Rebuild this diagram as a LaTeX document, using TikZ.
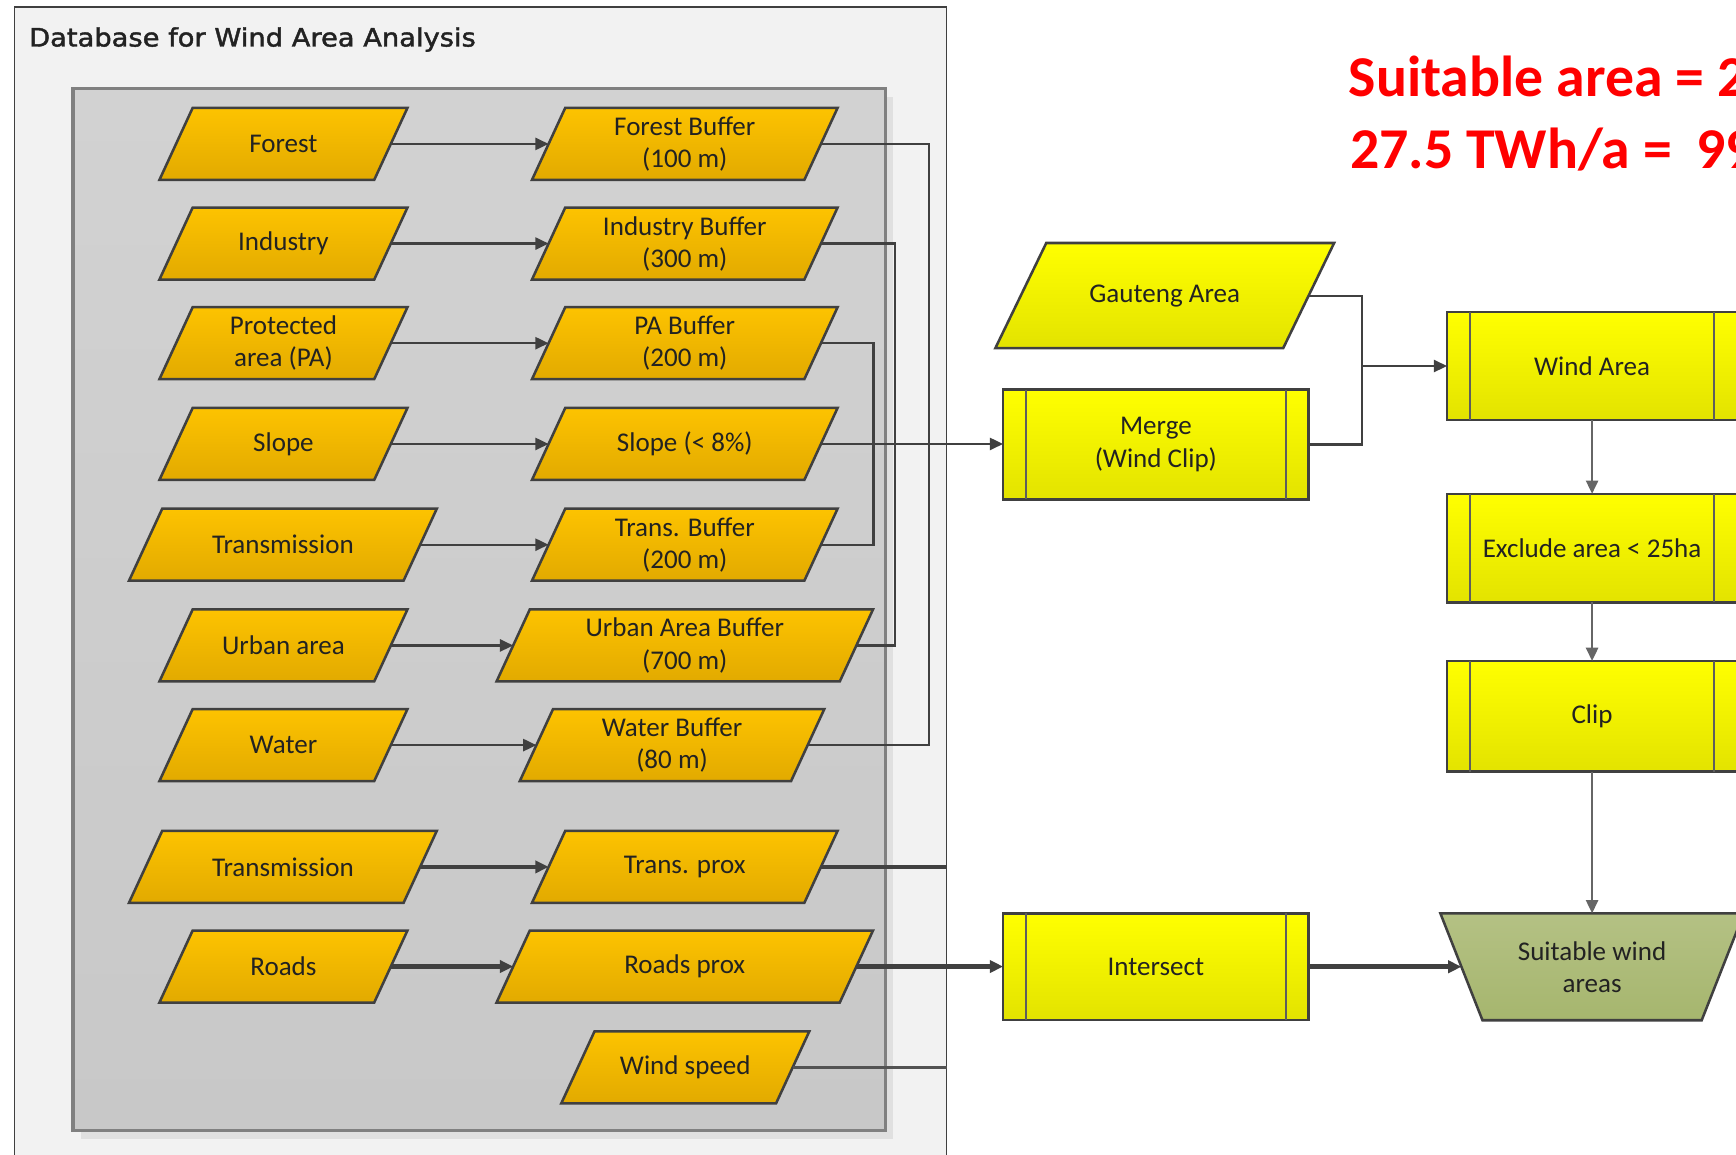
\documentclass[tikz,border=0pt]{standalone}
\usepackage{fontspec}
\setmainfont{Carlito}
\newfontfamily\titlefont[FakeBold=1.6]{DejaVu Sans}
\usetikzlibrary{arrows.meta,calc}

\definecolor{orT}{HTML}{FDC300}
\definecolor{orB}{HTML}{E2AA00}
\definecolor{yeT}{HTML}{FFFF00}
\definecolor{yeB}{HTML}{E3E300}
\definecolor{olT}{HTML}{B4C184}
\definecolor{olB}{HTML}{A6B66E}
\definecolor{edgec}{HTML}{404040}
\definecolor{panelc}{HTML}{F2F2F2}
\definecolor{innerT}{HTML}{D2D2D2}
\definecolor{innerB}{HTML}{C8C8C8}
\definecolor{innerE}{HTML}{808080}
\definecolor{redtxt}{HTML}{FF0000}
\definecolor{txtc}{HTML}{222222}

% parallelogram: name, cx, cy, w, h, slant, style, text
\newcommand\mypara[8]{%
  \path[#7] ({#2-#4/2+#6/2},{#3-#5/2}) -- ({#2+#4/2+#6/2},{#3-#5/2})
     -- ({#2+#4/2-#6/2},{#3+#5/2}) -- ({#2-#4/2-#6/2},{#3+#5/2}) -- cycle;
  \node[lbl, minimum width={#4*0.02cm}, minimum height={#5*0.02cm}] (#1) at (#2,#3) {#8};
}
% predefined process box: name, cx, cy, w, h, text
\newcommand\procbox[6]{%
  \node[procstyle, minimum width={#4*0.02cm}, minimum height={#5*0.02cm}] (#1) at (#2,#3) {#6};
  \draw[sideline] ([xshift=0.41cm]#1.north west) -- ([xshift=0.41cm]#1.south west);
  \draw[sideline] ([xshift=-0.41cm]#1.north east) -- ([xshift=-0.41cm]#1.south east);
}

\begin{document}
\begin{tikzpicture}[x=0.02cm,y=-0.02cm,
  orshape/.style={top color=orT,bottom color=orB,draw=edgec,line width=1.3pt},
  yeshape/.style={top color=yeT,bottom color=yeB,draw=edgec,line width=1.3pt},
  olshape/.style={top color=olT,bottom color=olB,draw=edgec,line width=1.3pt},
  lbl/.style={inner sep=0pt,outer sep=0pt,align=center,text=txtc,
    font=\fontsize{13.9pt}{16.5pt}\selectfont},
  procstyle/.style={lbl,yeshape},
  sideline/.style={draw=edgec!85,line width=1pt},
  conn/.style={draw=edgec,line width=1.1pt},
  bigconn/.style={draw=edgec,line width=2.4pt},
  vconn/.style={draw=edgec!80,line width=1.1pt},
  arr/.style={-{Triangle[length=0.24cm,width=0.22cm]}},
]
\useasboundingbox (0,0) rectangle (1568,1043);
\begin{scope}
\clip (0,0) rectangle (1568,1043);
\fill[white] (0,0) rectangle (1568,1043);

% outer database panel
\draw[fill=panelc, draw=edgec, line width=0.9pt] (13,6) rectangle (855,1070);
\node[anchor=base west, inner sep=0pt, text=txtc,
  font=\titlefont\fontsize{13pt}{15pt}\selectfont] (title) at (26,42)
  {\scalebox{1.08}[1]{Database for Wind Area Analysis}};

% inner panel
\fill[black!12] (73,88) rectangle (807,1029);
\draw[top color=innerT, bottom color=innerB, draw=innerE, line width=1.8pt]
  (66,80) rectangle (800,1021);

% left column
\mypara{forest}{256}{130}{194}{65}{30}{orshape}{Forest}
\mypara{industry}{256}{220}{194}{65}{30}{orshape}{Industry}
\mypara{protected}{256}{310}{194}{65}{30}{orshape}{Protected\\area (PA)}
\mypara{slope}{256}{401}{194}{65}{30}{orshape}{Slope}
\mypara{transA}{255.5}{492}{248}{65}{30}{orshape}{Transmission}
\mypara{urban}{256}{583}{194}{65}{30}{orshape}{Urban area}
\mypara{water}{256}{673}{194}{65}{30}{orshape}{Water}
\mypara{transB}{255.5}{783}{248}{65}{30}{orshape}{Transmission}
\mypara{roads}{256}{873}{194}{65}{30}{orshape}{Roads}

% right column
\mypara{forestb}{618.5}{130}{246}{65}{30}{orshape}{Forest Buffer\\(100 m)}
\mypara{industryb}{618.5}{220}{246}{65}{30}{orshape}{Industry Buffer\\(300 m)}
\mypara{pab}{618.5}{310}{246}{65}{30}{orshape}{PA Buffer\\(200 m)}
\mypara{slopeb}{618.5}{401}{246}{65}{30}{orshape}{Slope (< 8\%)}
\mypara{transb}{618.5}{492}{246}{65}{30}{orshape}{Trans. Buffer\\(200 m)}
\mypara{urbanb}{618.5}{583}{310}{65}{30}{orshape}{Urban Area Buffer\\(700 m)}
\mypara{waterb}{607}{673}{245}{65}{30}{orshape}{Water Buffer\\(80 m)}
\mypara{tprox}{618.5}{783}{246}{65}{30}{orshape}{Trans. prox}
\mypara{rprox}{618.5}{873}{310}{65}{30}{orshape}{Roads prox}
\mypara{wspeed}{619}{964}{194}{65}{30}{orshape}{Wind speed}

% right side process
\mypara{gauteng}{1052}{267}{260}{95}{46}{yeshape}{Gauteng Area}
\procbox{merge}{1044}{401.5}{276}{99}{Merge\\(Wind Clip)}
\procbox{intersect}{1044}{873.2}{276}{96.5}{Intersect}
\procbox{wind}{1438}{330.6}{262}{97.6}{Wind Area}
\procbox{excl}{1438}{495}{262}{98}{Exclude area < 25ha}
\procbox{clip}{1438}{647}{262}{100}{Clip}
\path[olshape] (1301,825) -- (1575,825) -- (1537,921.5) -- (1339,921.5) -- cycle;
\node[lbl, minimum width={236*0.02cm}, minimum height={96.5*0.02cm}] (suit) at (1438,873.2)
  {Suitable wind\\areas};

% red annotation
\node[anchor=base west, inner sep=0pt, text=redtxt,
  font=\bfseries\fontsize{29.7pt}{36pt}\selectfont] (note1) at (1218,87.5) {Suitable area = 2};
\node[anchor=base west, inner sep=0pt, text=redtxt,
  font=\bfseries\fontsize{29.7pt}{36pt}\selectfont] (note2) at (1219,152) {27.5 TWh/a = \hspace{0.2em}99};

% connectors: inputs to buffers
\draw[conn,arr] (forest.east) -- (forestb.west);
\draw[conn,arr] (industry.east) -- (industryb.west);
\draw[conn,arr] (protected.east) -- (pab.west);
\draw[conn,arr] (slope.east) -- (slopeb.west);
\draw[conn,arr] (transA.east) -- (transb.west);
\draw[conn,arr] (urban.east) -- (urbanb.west);
\draw[conn,arr] (water.east) -- (waterb.west);
\draw[bigconn,arr] (transB.east) -- (tprox.west);
\draw[bigconn,arr] (roads.east) -- (rprox.west);

% buffer brackets
\coordinate (bx1) at (839,0);
\coordinate (bx2) at (808.7,0);
\coordinate (bx3) at (789,0);
\coordinate (rb) at (855,0);
\draw[conn] (forestb.east) -- (forestb.east -| bx1) |- (waterb.east);
\draw[conn] (industryb.east) -- (industryb.east -| bx2) |- (urbanb.east);
\draw[conn] (pab.east) -- (pab.east -| bx3) |- (transb.east);
\draw[conn,arr] (slopeb.east) -- (slopeb.east -| merge.west);
\draw[bigconn] (tprox.east) -- (tprox.east -| rb);
\draw[draw=edgec!90,line width=1.7pt] (wspeed.east) -- (wspeed.east -| rb);
\draw[bigconn,arr] (rprox.east) -- (rprox.east -| intersect.west);

% process flow
\coordinate (jn) at (1230,330.6);
\draw[conn] (gauteng.east) -| (jn) |- (merge.east);
\draw[conn,arr] (jn) -- (wind.west);
\draw[vconn,arr] (wind.south) -- (excl.north);
\draw[vconn,arr] (excl.south) -- (clip.north);
\draw[vconn,arr] (clip.south) -- (suit.north);
\draw[bigconn,arr] (intersect.east) -- (suit.west);
\end{scope}
\end{tikzpicture}
\end{document}
